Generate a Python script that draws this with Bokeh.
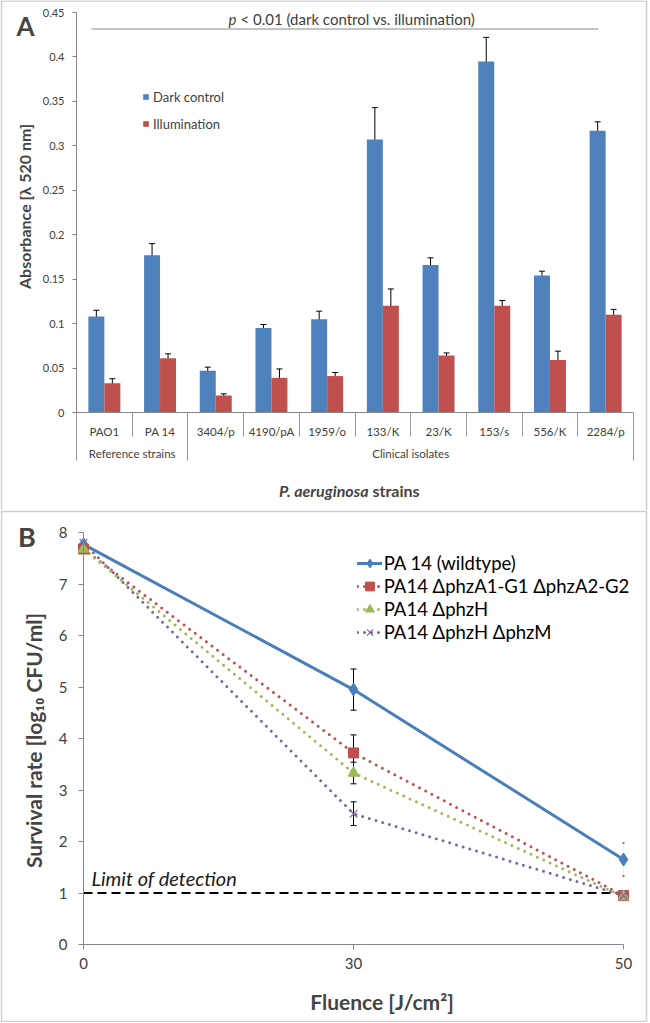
import math
from bokeh.plotting import figure
from bokeh.models import (Range1d, LinearAxis, FixedTicker, ColumnDataSource, Whisker, TeeHead,
                          Legend, LegendItem, Label)
from bokeh.transform import dodge
from bokeh.layouts import column
from bokeh.embed import file_html
from bokeh.resources import INLINE

FONT = "Lato"
AXIS_GREY = "#868686"
SEP_GREY = "#9a9a9a"
BOX_GREY = "#cccccc"
TICK_TEXT = "#404040"

# ---------------- Panel A data ----------------
strains = ["PAO1", "PA 14", "3404/p", "4190/pA", "1959/o", "133/K", "23/K", "153/s", "556/K", "2284/p"]
strain_groups = ["Reference strains", "Clinical isolates"]
group_sizes = [2, 8]
dark_control = [0.108, 0.177, 0.047, 0.095, 0.105, 0.307, 0.166, 0.395, 0.154, 0.317]
dark_control_err = [0.007, 0.013, 0.004, 0.004, 0.009, 0.036, 0.008, 0.027, 0.005, 0.010]
illumination = [0.033, 0.061, 0.019, 0.039, 0.041, 0.120, 0.064, 0.120, 0.059, 0.110]
illumination_err = [0.005, 0.005, 0.002, 0.010, 0.004, 0.019, 0.003, 0.006, 0.010, 0.006]
absorbance_ticks = [0, 0.05, 0.1, 0.15, 0.2, 0.25, 0.3, 0.35, 0.4, 0.45]

# ---------------- Panel B data ----------------
fluence = ["0", "30", "50"]
survival_ticks = [0, 1, 2, 3, 4, 5, 6, 7, 8]
limit_of_detection = 1
series_labels = ["PA 14 (wildtype)", "PA14 \u0394phzA1-G1 \u0394phzA2-G2",
                 "PA14 \u0394phzH", "PA14 \u0394phzH \u0394phzM"]
pa14_wildtype = [7.77, 4.95, 1.65]
pa14_wildtype_err = [0, 0.40, 0.32]
pa14_dphzA1G1_dphzA2G2 = [7.68, 3.72, 0.95]
pa14_dphzA1G1_dphzA2G2_err = [0, 0.35, 0]
pa14_dphzH = [7.68, 3.33, 0.93]
pa14_dphzH_err = [0, 0.21, 0]
pa14_dphzH_dphzM = [7.80, 2.54, 0.95]
pa14_dphzH_dphzM_err = [0, 0.23, 0]

W = 650

# =============== Panel A (page y 0..510) ===============
HA = 510
n = len(strains)
bounds = [-0.5]
for g in group_sizes:
    bounds.append(bounds[-1] + g)
centers = [(bounds[i] + bounds[i + 1]) / 2 for i in range(len(group_sizes))]
ymaxA = absorbance_ticks[-1]
A_XL, A_XR = 76, 633       # page px of the category-axis ends
A_Y0, A_YT = 412, 12       # page px of y=0 and y=max


def ax(px):
    return bounds[0] + (px - A_XL) * n / (A_XR - A_XL)


def ay(py):
    return (A_Y0 - py) * ymaxA / (A_Y0 - A_YT)


pa = figure(width=W, height=HA, x_range=Range1d(ax(0), ax(W)), y_range=Range1d(ay(HA), ay(0)),
            output_backend="svg", toolbar_location=None,
            min_border_left=0, min_border_right=0, min_border_top=0, min_border_bottom=0,
            outline_line_color=None, background_fill_color="white", border_fill_color="white")
pa.xgrid.grid_line_color = None
pa.ygrid.grid_line_color = None

srcA = ColumnDataSource(dict(
    x=list(range(n)), dark=dark_control, illum=illumination,
    dark_lo=[v - e for v, e in zip(dark_control, dark_control_err)],
    dark_hi=[v + e for v, e in zip(dark_control, dark_control_err)],
    illum_lo=[v - e for v, e in zip(illumination, illumination_err)],
    illum_hi=[v + e for v, e in zip(illumination, illumination_err)],
))
BW = 0.287
rb = pa.vbar(x=dodge("x", -BW / 2, range=pa.x_range), top="dark", width=BW, source=srcA,
             fill_color="#4F81BD", line_color=None)
rr = pa.vbar(x=dodge("x", BW / 2, range=pa.x_range), top="illum", width=BW, source=srcA,
             fill_color="#C0504D", line_color=None)
for off, lo, hi in [(-BW / 2, "dark_lo", "dark_hi"), (BW / 2, "illum_lo", "illum_hi")]:
    pa.add_layout(Whisker(source=srcA, base=dodge("x", off, range=pa.x_range), lower=lo, upper=hi,
                          dimension="height", line_color="black", line_width=1,
                          upper_head=TeeHead(size=6, line_color="black", line_width=1),
                          lower_head=TeeHead(size=6, line_color="black", line_width=1)))

ya = pa.yaxis[0]
ya.fixed_location = bounds[0]
ya.bounds = (0, ymaxA)
ya.ticker = FixedTicker(ticks=absorbance_ticks)
ya.major_label_overrides = {t: f"{t:g}" for t in absorbance_ticks}
ya.axis_line_color = AXIS_GREY
ya.major_tick_line_color = AXIS_GREY
ya.major_tick_out = 4
ya.major_tick_in = 0
ya.minor_tick_line_color = None
ya.major_label_standoff = 8
ya.major_label_text_font = FONT
ya.major_label_text_font_size = "11px"
ya.major_label_text_color = TICK_TEXT

# strain axis: labels at category centres, separators as minor ticks at category borders
xa1 = pa.xaxis[0]
xa1.fixed_location = 0
xa1.bounds = (bounds[0], bounds[-1])
xa1.ticker = FixedTicker(ticks=list(range(n)), minor_ticks=[i - 0.5 for i in range(n + 1)])
xa1.major_label_overrides = {i: s for i, s in enumerate(strains)}
xa1.axis_line_color = AXIS_GREY
xa1.major_tick_line_color = None
xa1.major_tick_out = 0
xa1.major_tick_in = 0
xa1.minor_tick_line_color = SEP_GREY
xa1.minor_tick_out = 24
xa1.minor_tick_in = 0
xa1.major_label_standoff = -12
xa1.major_label_text_font = FONT
xa1.major_label_text_font_size = "11.5px"
xa1.major_label_text_color = TICK_TEXT

# group axis
xa2 = LinearAxis(fixed_location=ay(436), bounds=(bounds[0], bounds[-1]),
                 ticker=FixedTicker(ticks=centers, minor_ticks=bounds),
                 major_label_overrides={c: g for c, g in zip(centers, strain_groups)},
                 axis_line_color=None, major_tick_line_color=None, major_tick_out=0, major_tick_in=0,
                 minor_tick_line_color=SEP_GREY, minor_tick_out=24, minor_tick_in=0,
                 major_label_standoff=-14, major_label_text_font=FONT, major_label_text_font_size="11.5px",
                 major_label_text_color=TICK_TEXT)
pa.add_layout(xa2, "below")

legA = Legend(items=[LegendItem(label="Dark control", renderers=[rb]),
                     LegendItem(label="Illumination", renderers=[rr])],
              location=(142, HA - 133.5), orientation="vertical", glyph_width=7, glyph_height=7,
              label_standoff=4, label_height=20, spacing=7, padding=0, margin=0,
              border_line_color=None, background_fill_alpha=0,
              label_text_font=FONT, label_text_font_size="13px", label_text_color=TICK_TEXT)
pa.add_layout(legA)

pa.add_layout(Label(x=ax(25), y=ay(25), text="A", text_font=FONT, text_font_size="26px",
                    text_font_style="bold", text_align="center", text_baseline="middle"))
pa.add_layout(Label(x=ax(23.5), y=ay(206), text="Absorbance [\u03bb 520 nm]", angle=math.pi / 2,
                    text_font=FONT, text_font_size="16px", text_font_style="bold",
                    text_align="center", text_baseline="middle"))
pa.add_layout(Label(x=ax(236), y=ay(18), text="p", text_font=FONT, text_font_size="15px",
                    text_font_style="italic", text_align="right", text_baseline="middle",
                    text_color=TICK_TEXT))
pa.add_layout(Label(x=ax(240), y=ay(18), text="< 0.01 (dark control vs. illumination)", text_font=FONT,
                    text_font_size="15px", text_align="left", text_baseline="middle", text_color=TICK_TEXT))
pa.line(x=[ax(91), ax(598)], y=[ay(28.5)] * 2, line_color=AXIS_GREY, line_width=1)
pa.add_layout(Label(x=ax(368), y=ay(490), text="P. aeruginosa", text_font=FONT, text_font_size="16px",
                    text_font_style="bold italic", text_align="right", text_baseline="middle"))
pa.add_layout(Label(x=ax(372), y=ay(490), text="strains", text_font=FONT, text_font_size="16px",
                    text_font_style="bold", text_align="left", text_baseline="middle"))
# panel frame (light grey box)
pa.line(x=[ax(1), ax(1)], y=[ay(HA), ay(0.5)], line_color=BOX_GREY, line_width=1.5)
pa.line(x=[ax(0), ax(646)], y=[ay(0.5), ay(0.5)], line_color=BOX_GREY, line_width=1.5)
pa.line(x=[ax(646), ax(646)], y=[ay(HA), ay(0.5)], line_color=BOX_GREY, line_width=1.5)

# =============== Panel B (page y 510..1022) ===============
B_Y0 = HA
HB = 512
nf = len(fluence)
ymaxB = survival_ticks[-1]
B_XL, B_XR = 83, 623       # page px of first / last fluence category
B_Y0PX, B_YTPX = 944, 532  # page px of y=0 and y=max


def bx(px):
    return (px - B_XL) * (nf - 1) / (B_XR - B_XL)


def by(py):
    return (B_Y0PX - py) * ymaxB / (B_Y0PX - B_YTPX)


pb = figure(width=W, height=HB, x_range=Range1d(bx(0), bx(W)),
            y_range=Range1d(by(B_Y0 + HB), by(B_Y0)),
            output_backend="svg", toolbar_location=None,
            min_border_left=0, min_border_right=0, min_border_top=0, min_border_bottom=0,
            outline_line_color=None, background_fill_color="white", border_fill_color="white")
pb.xgrid.grid_line_color = None
pb.ygrid.grid_line_color = None

xb = pb.xaxis[0]
xb.fixed_location = 0
xb.bounds = (0, nf - 1)
xb.ticker = FixedTicker(ticks=list(range(nf)))
xb.major_label_overrides = {i: f for i, f in enumerate(fluence)}
yb = pb.yaxis[0]
yb.fixed_location = 0
yb.bounds = (0, ymaxB)
yb.ticker = FixedTicker(ticks=survival_ticks)
for axis, standoff in [(xb, 8), (yb, 11)]:
    axis.axis_line_color = AXIS_GREY
    axis.major_tick_line_color = AXIS_GREY
    axis.major_tick_out = 5
    axis.major_tick_in = 0
    axis.minor_tick_line_color = None
    axis.major_label_standoff = standoff
    axis.major_label_text_font = FONT
    axis.major_label_text_font_size = "15px"
    axis.major_label_text_color = TICK_TEXT

series_values = [pa14_wildtype, pa14_dphzA1G1_dphzA2G2, pa14_dphzH, pa14_dphzH_dphzM]
series_errors = [pa14_wildtype_err, pa14_dphzA1G1_dphzA2G2_err, pa14_dphzH_err, pa14_dphzH_dphzM_err]
styles = [
    dict(color="#4A7EBB", dash="solid", marker="diamond", size=13, mlw=1),
    dict(color="#C0504D", dash="0 7", marker="square", size=10, mlw=1),
    dict(color="#9BBB59", dash="0 7", marker="triangle", size=11, mlw=1),
    dict(color="#8064A2", dash="0 7", marker="x", size=11, mlw=1.2),
]
faint_error_points = [(0, 2)]   # (series, fluence index) whose bar shows only faintly

pb.line(x=[0, nf - 1], y=[limit_of_detection] * 2, line_color="black", line_width=2, line_dash="9 5")

items = []
line_rs = []
for si, (vals, st) in enumerate(zip(series_values, styles)):
    src = ColumnDataSource(dict(x=list(range(nf)), y=vals))
    line_rs.append(pb.line(x="x", y="y", source=src, line_color=st["color"], line_width=3,
                           line_dash=st["dash"], line_cap="round"))
for si, (vals, errs, st) in enumerate(zip(series_values, series_errors, styles)):
    src = ColumnDataSource(dict(x=list(range(nf)), y=vals))
    mr = pb.scatter(x="x", y="y", source=src, marker=st["marker"], size=st["size"],
                    fill_color=st["color"], line_color=st["color"], line_width=st["mlw"])
    items.append(LegendItem(label=series_labels[si], renderers=[line_rs[si], mr]))
    for faint in (False, True):
        idx = [i for i in range(nf) if errs[i] > 0 and (((si, i) in faint_error_points) == faint)]
        if not idx:
            continue
        esrc = ColumnDataSource(dict(x=idx, lo=[vals[i] - errs[i] for i in idx],
                                     hi=[vals[i] + errs[i] for i in idx]))
        lc = "#eeeeee" if faint else "black"
        hs = 2 if faint else 6
        pb.add_layout(Whisker(source=esrc, base="x", lower="lo", upper="hi", dimension="height",
                              line_color=lc, line_width=1,
                              upper_head=TeeHead(size=hs, line_color="black", line_width=1),
                              lower_head=TeeHead(size=hs, line_color="black", line_width=1)))

legB = Legend(items=items, location=(356.7, B_Y0 + HB - 643.3), orientation="vertical",
              glyph_width=25, glyph_height=22, label_standoff=2, label_height=22, spacing=1,
              padding=0, margin=0, border_line_color=None, background_fill_alpha=0,
              label_text_font=FONT, label_text_font_size="18.5px", label_text_color="black")
pb.add_layout(legB)

pb.add_layout(Label(x=bx(26.5), y=by(536), text="B", text_font=FONT, text_font_size="27px",
                    text_font_style="bold", text_align="center", text_baseline="middle"))
pb.add_layout(Label(x=bx(32.5), y=by(740), text="Survival rate [log\u2081\u2080 CFU/ml]", angle=math.pi / 2,
                    text_font=FONT, text_font_size="21px", text_font_style="bold",
                    text_align="center", text_baseline="middle"))
pb.add_layout(Label(x=bx(91), y=by(877), text="Limit of detection", text_font=FONT,
                    text_font_size="20px", text_font_style="italic", text_align="left",
                    text_baseline="middle", text_color="#1a1a1a"))
pb.add_layout(Label(x=bx(381.5), y=by(1001), text="Fluence [J/cm\u00b2]", text_font=FONT,
                    text_font_size="21px", text_font_style="bold", text_align="center",
                    text_baseline="middle"))
# panel frame (light grey box)
pb.line(x=[bx(0), bx(646)], y=[by(511), by(511)], line_color=BOX_GREY, line_width=1.5)
pb.line(x=[bx(0), bx(646)], y=[by(1021), by(1021)], line_color=BOX_GREY, line_width=1.5)
pb.line(x=[bx(1), bx(1)], y=[by(511), by(1021)], line_color=BOX_GREY, line_width=1.5)
pb.line(x=[bx(646), bx(646)], y=[by(511), by(1021)], line_color=BOX_GREY, line_width=1.5)

layout = column(pa, pb, spacing=0)
open("out.html", "w").write(file_html(layout, INLINE))
